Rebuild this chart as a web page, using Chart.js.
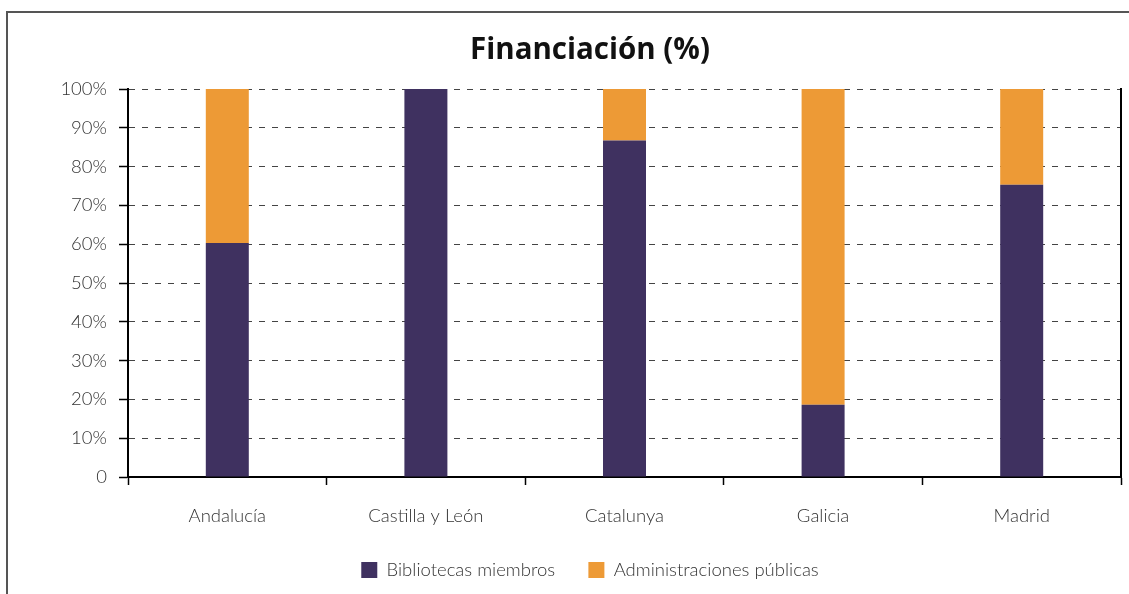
<!DOCTYPE html>
<html>
<head>
<meta charset="utf-8">
<script src="https://cdn.jsdelivr.net/npm/chart.js@4"></script>
<style>
  html, body { margin: 0; padding: 0; background: #fff; overflow: hidden; }
  #frame { position: absolute; left: 6px; top: 11px; width: 3000px; height: 3000px;
           border-top: 2px solid #555; border-left: 2px solid #555; }
  #wrap { position: absolute; left: 0; top: 0; width: 1129px; height: 594px; }
</style>
</head>
<body>
<div id="frame"></div>
<div id="wrap"><canvas id="c" width="1129" height="594"></canvas></div>
<script>
const categories = ['Andalucía', 'Castilla y León', 'Catalunya', 'Galicia', 'Madrid'];
const bibliotecasMiembros = [60.3, 100, 86.7, 18.6, 75.3];
const administracionesPublicas = [39.7, 0, 13.3, 81.4, 24.7];
const seriesNames = ['Bibliotecas miembros', 'Administraciones públicas'];
const yTicks = [0, 10, 20, 30, 40, 50, 60, 70, 80, 90, 100];
const titleText = 'Financiación (%)';

const FONT = 'Lato, "DejaVu Sans", sans-serif';
const FS = 18.5;

new Chart(document.getElementById('c'), {
  type: 'bar',
  data: {
    labels: categories,
    datasets: [
      { label: seriesNames[0], data: bibliotecasMiembros, backgroundColor: '#3f3160',
        categoryPercentage: 1, barPercentage: 0.2165 },
      { label: seriesNames[1], data: administracionesPublicas, backgroundColor: '#ed9a36',
        categoryPercentage: 1, barPercentage: 0.2165 }
    ]
  },
  options: {
    responsive: false,
    animation: false,
    layout: { padding: { left: 51, right: 0, top: 0, bottom: 4.75 } },
    plugins: {
      title: {
        display: true, text: titleText, color: '#111',
        font: { family: '"Open Sans", Lato, sans-serif', size: 29.5, weight: 'bold', lineHeight: 1.2 },
        padding: { top: 33.3, bottom: 20.3 }
      },
      legend: {
        position: 'bottom',
        labels: {
          color: '#333', boxWidth: 16, boxHeight: 16, padding: 33.25,
          font: { family: FONT, size: FS, weight: 300, lineHeight: 1.2 }
        }
      },
      tooltip: { enabled: false }
    },
    scales: {
      x: {
        stacked: true,
        grid: { display: true, drawOnChartArea: false, drawTicks: true, tickLength: 8,
                tickColor: '#000', tickWidth: 1.5, offset: true },
        border: { display: true, color: '#000', width: 2 },
        ticks: { color: '#333', padding: 19.9, font: { family: FONT, size: FS, weight: 300, lineHeight: 1.2 } },
        afterFit: (s) => { s.height = 50.5; }
      },
      y: {
        stacked: true, min: 0, max: 100,
        afterBuildTicks: (s) => { s.ticks = yTicks.map(v => ({ value: v })); },
        grid: { color: '#444', lineWidth: 1, drawTicks: true, tickLength: 9,
                tickColor: '#000', tickWidth: 1.5 },
        border: { display: true, color: '#000', width: 2, dash: [6, 7] },
        ticks: { color: '#333', padding: 12, font: { family: FONT, size: FS, weight: 300 },
                 callback: (v) => v === 0 ? '0' : v + '%' },
        afterFit: (s) => { s.width = 77; }
      },
      y2: {
        position: 'right', display: true, min: 0, max: 100,
        grid: { display: false, drawTicks: false },
        ticks: { display: false },
        border: { display: true, color: '#000', width: 2 },
        afterFit: (s) => { s.width = 8; }
      }
    }
  }
});
</script>
</body>
</html>
